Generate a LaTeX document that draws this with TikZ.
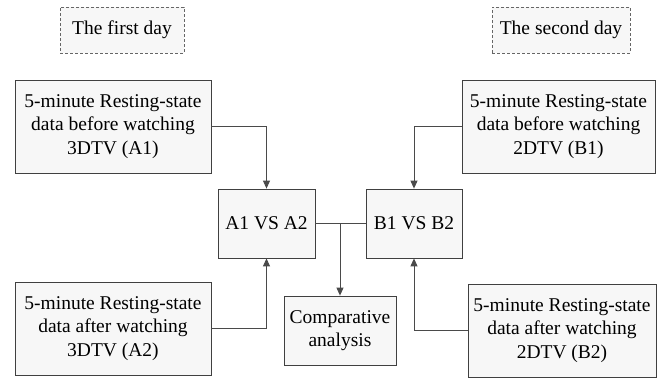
\documentclass[tikz,border=0pt]{standalone}
\usepackage{fontspec}
\setmainfont{Liberation Serif}
\usetikzlibrary{arrows.meta}
\definecolor{boxfill}{HTML}{F7F7F7}
\definecolor{boxline}{HTML}{404040}
\definecolor{wire}{HTML}{4A4A4A}
\begin{document}
\begin{tikzpicture}[x=1pt,y=-1pt,
  every node/.style={font=\fontsize{19.5}{23.5}\selectfont, align=center, inner sep=0pt},
  databox/.style={draw=boxline, fill=boxfill, line width=0.8pt, minimum height=93pt},
  cmpbox/.style={draw=boxline, fill=boxfill, line width=0.8pt, minimum height=69pt},
  daybox/.style={draw=boxline!80, fill=boxfill, dashed, dash pattern=on 3pt off 2pt, line width=0.8pt, minimum height=46pt},
  conn/.style={draw=wire, line width=0.9pt, -{Triangle[length=8pt,width=7pt]}},
  plain/.style={draw=wire, line width=0.9pt}]
\useasboundingbox (0,0) rectangle (662,378);
\node[daybox, minimum width=124pt] (d1) at (122,30) {The first day};
\node[daybox, minimum width=138pt] (d2) at (561,30) {The second day};
\node[databox, minimum width=196pt] (a1) at (113,126.5) {5-minute Resting-state\\data before watching\\3DTV (A1)};
\node[databox, minimum width=193pt] (b1) at (558.5,126.5) {5-minute Resting-state\\data before watching\\2DTV (B1)};
\node[cmpbox, minimum width=97pt] (av) at (266.5,223.5) {A1 VS A2};
\node[cmpbox, minimum width=96pt] (bv) at (414,223.5) {B1 VS B2};
\node[databox, minimum width=196pt] (a2) at (113,328.5) {5-minute Resting-state\\data after watching\\3DTV (A2)};
\node[databox, minimum width=188pt] (b2) at (562,330.5) {5-minute Resting-state\\data after watching\\2DTV (B2)};
\node[cmpbox, minimum width=112pt] (cp) at (340,330.5) {Comparative\\analysis};
\coordinate (j) at (cp.north |- av.east);
\draw[conn] (a1.east) -| (av.north);
\draw[conn] (a2.east) -| (av.south);
\draw[conn] (b1.west) -| (bv.north);
\draw[conn] (b2.west) -| (bv.south);
\draw[plain] (av.east) -- (bv.west);
\draw[conn] (j) -- (cp.north);
\end{tikzpicture}
\end{document}
